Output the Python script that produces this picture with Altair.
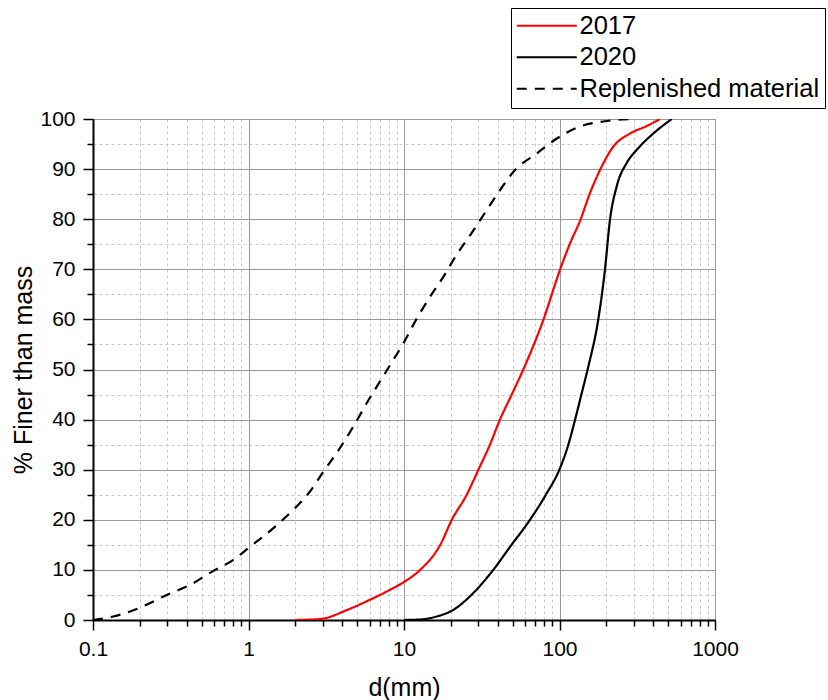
import altair as alt
import pandas as pd

series_names = ["2017", "2020", "Replenished material"]

d_2017 = [2.0, 2.9, 4.3, 6.0, 8.1, 10.0, 12.7, 17.1, 20.3, 25.3, 30.1, 35.7, 41.4, 49.3,
          58.5, 78.7, 100.7, 117, 136, 157, 182, 222, 284, 364, 443]
p_2017 = [0, 0.2, 2, 4, 6, 7.6, 10, 15, 20, 25, 30, 35, 40, 45,
          50, 59.9, 69.9, 75.2, 79.8, 85.2, 89.8, 94.5, 97.1, 98.6, 100]

d_2020 = [10.0, 12.7, 16.2, 20.7, 26.5, 37.5, 48.1, 64.6, 82.8, 99.8, 114, 126, 139,
          153, 178, 196, 211, 233, 270, 313, 401, 527]
p_2020 = [0, 0.1, 0.7, 2, 4.7, 10, 14.6, 20, 25.3, 30, 35, 40, 45.3,
          50.5, 60.2, 69.9, 79.8, 86.5, 91.2, 93.8, 97.1, 100]

d_repl = [0.1, 0.135, 0.195, 0.298, 0.421, 0.594, 0.80, 1.02, 1.44, 1.94, 2.48, 3.03,
          3.87, 4.72, 5.76, 7.0, 8.53, 9.9, 12.1, 14.7, 17.9, 21.8, 27.2, 34.0, 41.4,
          51.7, 71.3, 96, 135, 191, 284]
p_repl = [0, 0.7, 2.3, 5, 7, 9.8, 12, 14.6, 18.3, 22, 25.6, 29.6,
          34.3, 38.6, 43.3, 47.6, 51.9, 55.2, 60.2, 64.5, 68.5, 72.9, 77.2, 81.8, 85.8,
          89.8, 93.1, 96.1, 98.5, 99.5, 100]

x_tick_values = [0.1, 0.2, 0.3, 0.4, 0.5, 0.6, 0.7, 0.8, 0.9,
                 1, 2, 3, 4, 5, 6, 7, 8, 9,
                 10, 20, 30, 40, 50, 60, 70, 80, 90,
                 100, 200, 300, 400, 500, 600, 700, 800, 900, 1000]
y_tick_values = list(range(0, 101, 5))

rows = []
for name, xs, ys in [("2017", d_2017, p_2017), ("2020", d_2020, p_2020),
                     ("Replenished material", d_repl, p_repl)]:
    for i, (xv, yv) in enumerate(zip(xs, ys)):
        rows.append({"series": name, "d": xv, "p": yv, "order": i})
df = pd.DataFrame(rows)

FONT = "Liberation Sans"
x_major = "indexof([0.1,1,10,100,1000], datum.value) >= 0"
y_major = "datum.value % 10 == 0"

x_axis = alt.Axis(
    values=x_tick_values,
    title="d(mm)",
    labelExpr=f"({x_major}) ? toString(datum.value) : ''",
    grid=True,
    gridColor={"condition": {"test": x_major, "value": "#9a9a9a"}, "value": "#c8c8c8"},
    gridDash={"condition": {"test": x_major, "value": []}, "value": [3, 3]},
    gridWidth=1,
    tickSize={"condition": {"test": x_major, "value": 10}, "value": 6},
    tickColor="black", tickWidth=1.5,
    domainColor="black", domainWidth=2,
    labelFont=FONT, labelFontSize=21, labelColor="black", labelPadding=8,
    labelFlush=False, labelOverlap=False,
    titleFont=FONT, titleFontSize=25, titleFontWeight="normal", titleColor="black",
    titlePadding=16,
)
y_axis = alt.Axis(
    values=y_tick_values,
    title="% Finer than mass",
    labelExpr=f"({y_major}) ? toString(datum.value) : ''",
    grid=True,
    gridColor={"condition": {"test": y_major, "value": "#9a9a9a"}, "value": "#c8c8c8"},
    gridDash={"condition": {"test": y_major, "value": []}, "value": [3, 3]},
    gridWidth=1,
    tickSize={"condition": {"test": y_major, "value": 10}, "value": 6},
    tickColor="black", tickWidth=1.5,
    domainColor="black", domainWidth=2,
    labelFont=FONT, labelFontSize=21, labelColor="black", labelPadding=8,
    labelFlush=False, labelOverlap=False,
    titleFont=FONT, titleFontSize=25, titleFontWeight="normal", titleColor="black",
    titlePadding=3,
)

legend = alt.Legend(
    title=None, orient="none", legendX=418, legendY=-111,
    strokeColor="black", fillColor="white", padding=5,
    symbolType="M-3,0H3", symbolSize=400, symbolStrokeWidth=2,
    symbolOffset=18,
    labelFont=FONT, labelFontSize=25.5, labelColor="black", labelOffset=20,
    labelLimit=400, rowPadding=4.5,
)

chart = alt.Chart(df).mark_line(strokeWidth=2.2, interpolate="monotone", clip=True).encode(
    x=alt.X("d:Q", scale=alt.Scale(type="log", domain=[0.1, 1000], nice=False), axis=x_axis),
    y=alt.Y("p:Q", scale=alt.Scale(domain=[0, 100], nice=False), axis=y_axis),
    color=alt.Color("series:N", scale=alt.Scale(domain=series_names,
                                                range=["#ff0000", "#000000", "#000000"]),
                    legend=legend),
    strokeDash=alt.StrokeDash("series:N", scale=alt.Scale(domain=series_names,
                                                          range=[[1, 0], [1, 0], [10, 8]]),
                              legend=legend),
    order="order:Q",
).properties(
    width=622, height=501,
    autosize=alt.AutoSizeParams(type="none"),
    padding={"left": 93, "top": 119, "right": 113, "bottom": 80},
).configure_view(stroke="black", strokeWidth=2).configure(background="white")

chart.save("out.html", embed_options={"renderer": "svg", "actions": False})
